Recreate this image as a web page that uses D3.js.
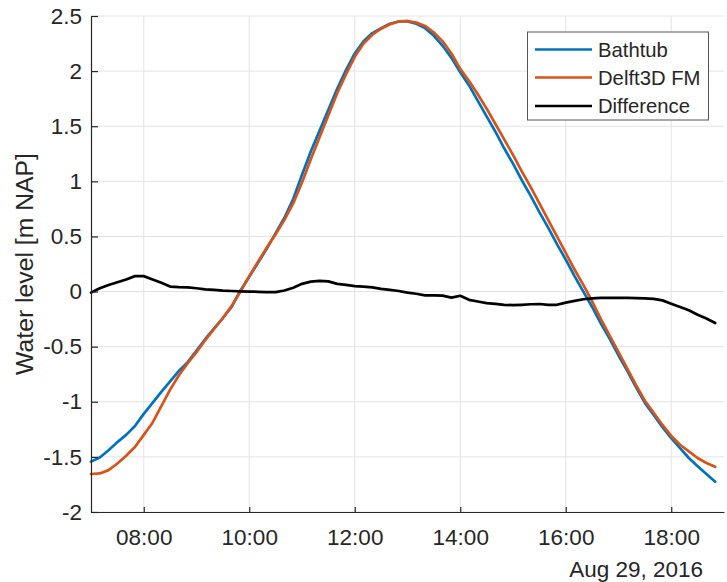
<!DOCTYPE html>
<html>
<head>
<meta charset="utf-8">
<script src="https://cdn.jsdelivr.net/npm/d3@7"></script>
<style>
  html, body { margin: 0; padding: 0; background: #fff; }
  svg { display: block; font-family: "Liberation Sans", Arial, Helvetica, sans-serif; }
</style>
</head>
<body>
<svg id="chart" width="727" height="582"></svg>
<script>
// Water level at 10-minute steps, 29 Aug 2016, 07:00 to 18:50
const startTime = "2016-08-29T07:00:00";
const stepMinutes = 10;

const bathtub = [
  -1.543, -1.505, -1.44, -1.366, -1.30, -1.22, -1.11, -1.01, -0.91, -0.815,
  -0.72, -0.64, -0.535, -0.43, -0.335, -0.24, -0.14, 0.01, 0.135, 0.26,
  0.39, 0.53, 0.67, 0.84, 1.06, 1.27, 1.46, 1.65, 1.84, 2.01,
  2.16, 2.27, 2.345, 2.39, 2.43, 2.45, 2.45, 2.43, 2.39, 2.32,
  2.23, 2.12, 1.99, 1.87, 1.73, 1.59, 1.45, 1.30, 1.16, 1.01,
  0.87, 0.72, 0.58, 0.43, 0.29, 0.14, 0.00, -0.14, -0.29, -0.43,
  -0.58, -0.72, -0.87, -1.01, -1.12, -1.23, -1.33, -1.42, -1.51, -1.585,
  -1.655, -1.725
];

const delft3dFM = [
  -1.655, -1.65, -1.62, -1.56, -1.49, -1.41, -1.30, -1.19, -1.04, -0.89,
  -0.76, -0.65, -0.55, -0.44, -0.34, -0.24, -0.13, 0.0, 0.14, 0.27,
  0.40, 0.52, 0.65, 0.80, 0.99, 1.20, 1.40, 1.60, 1.80, 1.97,
  2.13, 2.25, 2.33, 2.385, 2.425, 2.45, 2.455, 2.44, 2.41, 2.35,
  2.27, 2.16, 2.02, 1.91, 1.79, 1.66, 1.52, 1.38, 1.24, 1.09,
  0.95, 0.80, 0.65, 0.50, 0.35, 0.20, 0.06, -0.09, -0.25, -0.40,
  -0.55, -0.70, -0.85, -0.99, -1.10, -1.21, -1.31, -1.39, -1.45, -1.51,
  -1.555, -1.59
];

const difference = [
  -0.01, 0.03, 0.06, 0.085, 0.11, 0.14, 0.14, 0.11, 0.08, 0.045,
  0.04, 0.038, 0.03, 0.02, 0.015, 0.008, 0.005, 0.002, 0.0, -0.002,
  -0.005, -0.005, 0.01, 0.035, 0.07, 0.09, 0.097, 0.092, 0.07, 0.06,
  0.05, 0.045, 0.038, 0.025, 0.015, 0.005, -0.01, -0.02, -0.035, -0.035,
  -0.037, -0.055, -0.038, -0.075, -0.09, -0.105, -0.112, -0.12, -0.124, -0.12,
  -0.115, -0.113, -0.12, -0.12, -0.10, -0.085, -0.07, -0.062, -0.058, -0.057,
  -0.058, -0.058, -0.06, -0.062, -0.066, -0.08, -0.11, -0.14, -0.17, -0.21,
  -0.245, -0.285
];

const seriesNames = ["Bathtub", "Delft3D FM", "Difference"];
const seriesColors = ["#0072BD", "#D95319", "#000000"];

const xDomain = ["2016-08-29T07:00:00", "2016-08-29T19:00:00"];
const xTickTimes = ["08:00", "10:00", "12:00", "14:00", "16:00", "18:00"];
const yDomain = [-2, 2.5];
const yTickValues = [-2, -1.5, -1, -0.5, 0, 0.5, 1, 1.5, 2, 2.5];
const yLabel = "Water level [m NAP]";
const dateLabel = "Aug 29, 2016";

// ---- layout ----
const plotLeft = 91, plotRight = 724, plotTop = 16, plotBottom = 512;
const axisColor = "#262626";
const gridColor = "#e3e3e3";

const svg = d3.select("#chart");
const t0 = new Date(startTime);
const times = bathtub.map((_, i) => new Date(t0.getTime() + i * stepMinutes * 60000));

const x = d3.scaleTime().domain(xDomain.map(d => new Date(d))).range([plotLeft, plotRight]);
const y = d3.scaleLinear().domain(yDomain).range([plotBottom, plotTop]);

const xTicks = xTickTimes.map(s => new Date("2016-08-29T" + s + ":00"));

// grid
const grid = svg.append("g");
grid.selectAll("line.gx").data(xTicks).join("line")
  .attr("class", "gx")
  .attr("x1", d => x(d)).attr("x2", d => x(d))
  .attr("y1", plotTop).attr("y2", plotBottom)
  .attr("stroke", gridColor).attr("stroke-width", 1);
grid.selectAll("line.gy").data(yTickValues).join("line")
  .attr("class", "gy")
  .attr("x1", plotLeft).attr("x2", plotRight)
  .attr("y1", d => y(d)).attr("y2", d => y(d))
  .attr("stroke", gridColor).attr("stroke-width", 1);

// series
const allSeries = [bathtub, delft3dFM, difference];
const line = d3.line().x((d, i) => x(times[i])).y(d => y(d));
allSeries.forEach((vals, k) => {
  svg.append("path")
    .datum(vals)
    .attr("d", line)
    .attr("fill", "none")
    .attr("stroke", seriesColors[k])
    .attr("stroke-width", 2.7)
    .attr("stroke-linejoin", "round")
    .attr("stroke-linecap", "round");
});

// axes (ticks point inward, no top/right box)
const xAxis = d3.axisBottom(x).tickValues(xTicks)
  .tickFormat(d3.timeFormat("%H:%M")).tickSizeInner(-5).tickSizeOuter(0).tickPadding(17);
const gx = svg.append("g").attr("transform", `translate(0,${plotBottom})`).call(xAxis);

const yAxis = d3.axisLeft(y).tickValues(yTickValues)
  .tickFormat(d => String(d)).tickSizeInner(-7).tickSizeOuter(0).tickPadding(9);
const gy = svg.append("g").attr("transform", `translate(${plotLeft},0)`).call(yAxis);

[gx, gy].forEach(g => {
  g.select(".domain").attr("stroke", axisColor).attr("stroke-width", 1.2);
  g.selectAll(".tick line").attr("stroke", axisColor).attr("stroke-width", 1.2);
  g.selectAll(".tick text").attr("fill", axisColor)
    .style("font-size", "22.5px").style("font-family", "'Liberation Sans', Arial, sans-serif");
});

// date label below the time axis
svg.append("text")
  .attr("x", 703).attr("y", 577)
  .attr("text-anchor", "end")
  .attr("fill", axisColor)
  .style("font-size", "22.5px")
  .text(dateLabel);

// y axis label
svg.append("text")
  .attr("transform", `translate(33,${(plotTop + plotBottom) / 2}) rotate(-90)`)
  .attr("text-anchor", "middle")
  .attr("fill", axisColor)
  .style("font-size", "24.75px")
  .text(yLabel);

// legend
const lg = svg.append("g");
lg.append("rect")
  .attr("x", 527.5).attr("y", 32).attr("width", 181).attr("height", 88)
  .attr("fill", "#fff").attr("stroke", "#555").attr("stroke-width", 1);
const rowY = [49.5, 77.5, 106];
seriesNames.forEach((name, k) => {
  lg.append("line")
    .attr("x1", 535).attr("x2", 592)
    .attr("y1", rowY[k]).attr("y2", rowY[k])
    .attr("stroke", seriesColors[k]).attr("stroke-width", 2.7);
  lg.append("text")
    .attr("x", 598).attr("y", rowY[k])
    .attr("dy", "0.35em")
    .attr("fill", axisColor)
    .style("font-size", "20.25px")
    .text(name);
});
</script>
</body>
</html>
